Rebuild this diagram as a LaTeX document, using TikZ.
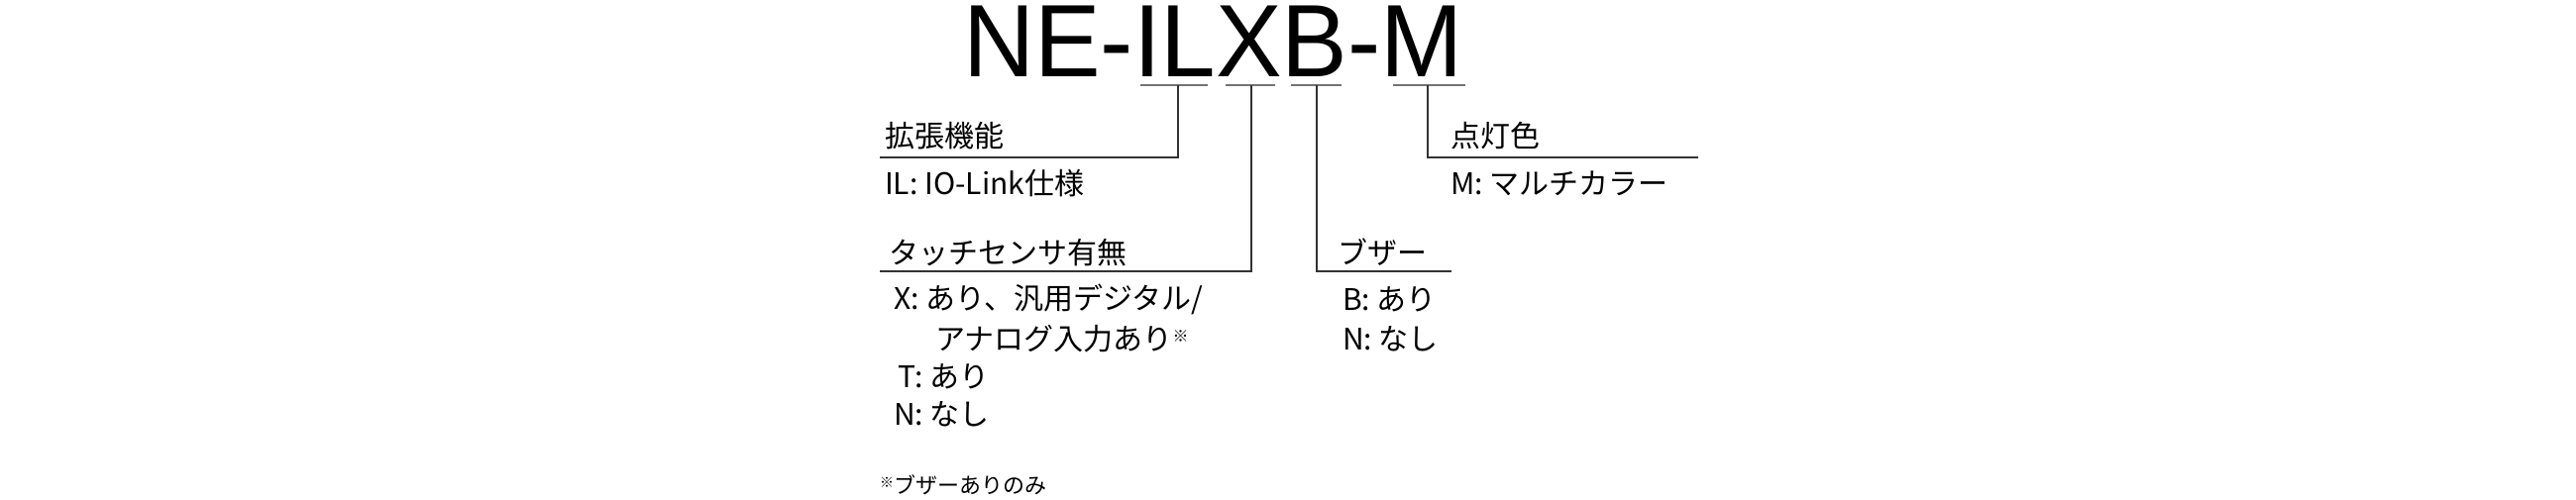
\documentclass[tikz,border=0pt]{standalone}
\usepackage{fontspec}
\newfontfamily\jp{Noto Sans CJK JP}
\newfontfamily\ttl{Liberation Sans}
\begin{document}
\begin{tikzpicture}[x=1pt,y=-1pt,
  lbl/.style={anchor=west,inner sep=0pt,font=\jp\fontsize{30}{34}\selectfont},
  ln/.style={line width=2pt,draw=black!80}]
\useasboundingbox (0,0) rectangle (2600,505);
\node[anchor=base west,inner sep=0pt,font=\ttl\fontsize{104}{110}\selectfont,xscale=0.96] (title) at (972,78) {NE-ILXB-M};
\foreach \a/\b/\n in {1151/1219/u1,1237/1287/u2,1303/1354/u3,1406/1479/u4}
  {\draw[ln,draw=black!55] (\a,86) -- (\b,86) coordinate (\n);}
\coordinate (v1) at (1189,86); \coordinate (v2) at (1263,86);
\coordinate (v3) at (1329,86); \coordinate (v4) at (1441,86);
\coordinate (h1) at (888,159); \coordinate (h2) at (888,274);
\coordinate (h3) at (1465,274); \coordinate (h4) at (1714,159);
\draw[ln] (v1) |- (h1);
\draw[ln] (v2) |- (h2);
\draw[ln] (v3) |- (h3);
\draw[ln] (v4) |- (h4);
\node[lbl] (a1) at (893,137) {拡張機能};
\node[lbl] (a2) at (893,185) {IL: IO-Link仕様};
\node[lbl] (b1) at (1464,137) {点灯色};
\node[lbl] (b2) at (1464,185) {M: マルチカラー};
\node[lbl] (c1) at (897,255) {タッチセンサ有無};
\node[lbl] (c2) at (902,302) {X: あり、汎用デジタル/};
\node[lbl] (c3) at (944,342) {アナログ入力あり{\fontsize{16}{16}\selectfont\raisebox{8pt}{※}}};
\node[lbl] (c4) at (906,380) {T: あり};
\node[lbl] (c5) at (902,418) {N: なし};
\node[lbl] (d1) at (1350,255) {ブザー};
\node[lbl] (d2) at (1355,302) {B: あり};
\node[lbl] (d3) at (1355,342) {N: なし};
\node[lbl,font=\jp\fontsize{22}{24}\selectfont] (f) at (888,490) {{\fontsize{14}{14}\selectfont\raisebox{6pt}{※}}ブザーありのみ};
\end{tikzpicture}
\end{document}
